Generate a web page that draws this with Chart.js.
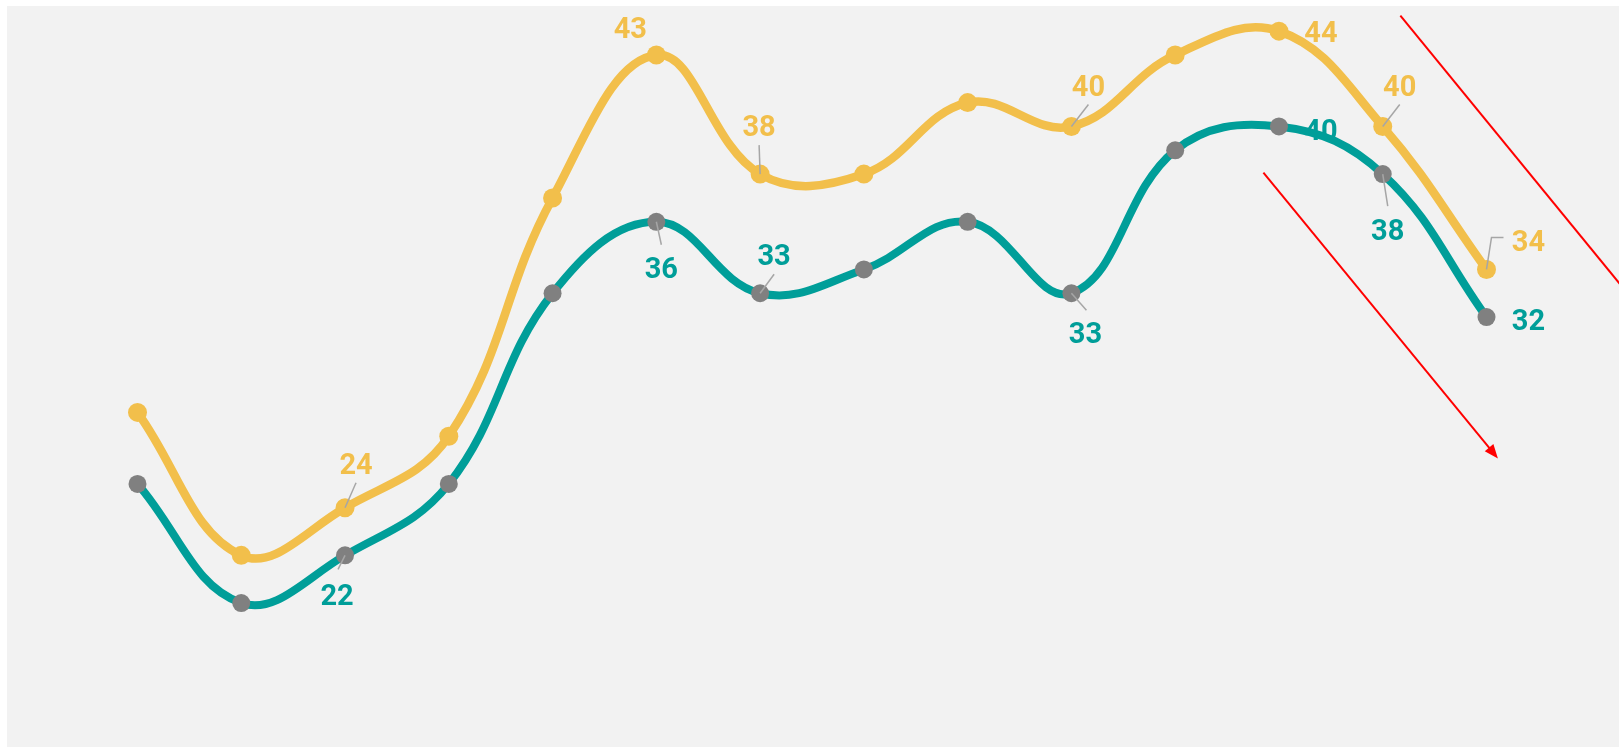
<!DOCTYPE html>
<html>
<head>
<meta charset="utf-8">
<script src="https://cdn.jsdelivr.net/npm/chart.js@4.4.1/dist/chart.umd.min.js"></script>
<style>
    html, body { margin: 0; padding: 0; background: #ffffff; }
    #wrap { position: absolute; left: 7px; top: 6px; width: 1612px; height: 741px; background: #f2f2f2; }
</style>
</head>
<body>
<div id="wrap"><canvas id="chart"></canvas></div>
<script>
const categories = ['1', '2', '3', '4', '5', '6', '7', '8', '9', '10', '11', '12', '13', '14'];
const yellowValues = [28, 22, 24, 27, 37, 43, 38, 38, 41, 40, 43, 44, 40, 34];
const tealValues = [25, 20, 22, 25, 33, 36, 33, 34, 36, 33, 39, 40, 38, 32];
const labelledPoints = [2, 5, 6, 9, 11, 12, 13];

// arrows in data units (x = category index, y = value)
const arrowStartX = [10.85, 12.17];
const arrowStartY = [38.06, 44.65];
const arrowEndX = [13.11, 14.42];
const arrowEndY = [26.07, 32.67];
const arrowHasHead = [true, false];

const YELLOW = '#f2bf4b';
const TEAL = '#009e99';
const GREY = '#808080';
const LEADER = '#a6a6a6';

// label placement relative to its point, in pixels
const labelLayout = {
    0: {
        2: { dx: 11, dy: -45, leader: [[11, -25]] },
        5: { dx: -26, dy: -28, leader: null },
        6: { dx: -1, dy: -49, leader: [[-1, -29]] },
        9: { dx: 17, dy: -42, leader: [[17, -22]] },
        11: { dx: 42, dy: 0, leader: null },
        12: { dx: 17, dy: -42, leader: [[17, -22]] },
        13: { dx: 42, dy: -30, leader: [[5, -32], [17, -32]] },
    },
    1: {
        2: { dx: -8, dy: 38, leader: [[-7, 14]] },
        5: { dx: 5, dy: 45, leader: [[5, 23]] },
        6: { dx: 14, dy: -39, leader: [[14, -19]] },
        9: { dx: 14, dy: 39, leader: [[15, 17]] },
        11: { dx: 42, dy: 2, leader: null },
        12: { dx: 5, dy: 55, leader: [[5, 32]] },
        13: { dx: 42, dy: 2, leader: null },
    },
};

const pointLabels = {
    id: 'pointLabels',
    beforeDatasetsDraw(chart) {
        const ctx = chart.ctx;
        ctx.save();
        ctx.font = 'bold 29px Roboto';
        ctx.textAlign = 'center';
        ctx.textBaseline = 'middle';
        chart.data.datasets.forEach((ds, di) => {
            const meta = chart.getDatasetMeta(di);
            labelledPoints.forEach((idx) => {
                const pos = labelLayout[di][idx];
                const pt = meta.data[idx];
                ctx.fillStyle = ds.borderColor;
                // +4: digits sit above the em-box middle
                ctx.fillText(String(ds.data[idx]), pt.x + pos.dx, pt.y + pos.dy + 4);
            });
        });
        ctx.restore();
    },
    afterDatasetsDraw(chart) {
        const ctx = chart.ctx;
        ctx.save();
        ctx.strokeStyle = LEADER;
        ctx.lineWidth = 1.5;
        chart.data.datasets.forEach((ds, di) => {
            const meta = chart.getDatasetMeta(di);
            labelledPoints.forEach((idx) => {
                const pos = labelLayout[di][idx];
                if (!pos.leader) return;
                const pt = meta.data[idx];
                ctx.beginPath();
                ctx.moveTo(pt.x, pt.y);
                pos.leader.forEach(([lx, ly]) => ctx.lineTo(pt.x + lx, pt.y + ly));
                ctx.stroke();
            });
        });
        ctx.restore();
    },
    afterDraw(chart) {
        const ctx = chart.ctx;
        const xs = chart.scales.x;
        const ys = chart.scales.y;
        ctx.save();
        ctx.strokeStyle = '#ff0000';
        ctx.fillStyle = '#ff0000';
        ctx.lineWidth = 2;
        arrowStartX.forEach((_, i) => {
            const x0 = xs.getPixelForValue(arrowStartX[i]);
            const y0 = ys.getPixelForValue(arrowStartY[i]);
            const x1 = xs.getPixelForValue(arrowEndX[i]);
            const y1 = ys.getPixelForValue(arrowEndY[i]);
            const ang = Math.atan2(y1 - y0, x1 - x0);
            const headLen = arrowHasHead[i] ? 15 : 0;
            ctx.beginPath();
            ctx.moveTo(x0, y0);
            ctx.lineTo(x1 - Math.cos(ang) * headLen * 0.8, y1 - Math.sin(ang) * headLen * 0.8);
            ctx.stroke();
            if (arrowHasHead[i]) {
                ctx.beginPath();
                ctx.moveTo(x1, y1);
                ctx.lineTo(x1 - headLen * Math.cos(ang - 0.38), y1 - headLen * Math.sin(ang - 0.38));
                ctx.lineTo(x1 - headLen * Math.cos(ang + 0.38), y1 - headLen * Math.sin(ang + 0.38));
                ctx.closePath();
                ctx.fill();
            }
        });
        ctx.restore();
    },
};

const ctx = document.getElementById('chart');

new Chart(ctx, {
    type: 'line',
    data: {
        labels: categories,
        datasets: [
            {
                label: 'Yellow',
                data: yellowValues,
                borderColor: YELLOW,
                borderWidth: 8.5,
                pointRadius: 9.5,
                pointBorderWidth: 0,
                pointBackgroundColor: YELLOW,
                tension: 0.4,
                clip: false,
            },
            {
                label: 'Teal',
                data: tealValues,
                borderColor: TEAL,
                borderWidth: 8,
                pointRadius: 9,
                pointBorderWidth: 0,
                pointBackgroundColor: GREY,
                tension: 0.4,
                clip: false,
            },
        ],
    },
    options: {
        responsive: true,
        maintainAspectRatio: false,
        animation: false,
        layout: {
            autoPadding: false,
            padding: { left: 130.5, right: 132.5, top: 1.3, bottom: 1 },
        },
        plugins: {
            legend: { display: false },
            tooltip: { enabled: false },
        },
        scales: {
            x: { display: false },
            y: { display: false, min: 14, max: 45 },
        },
    },
    plugins: [pointLabels],
});
</script>
</body>
</html>
